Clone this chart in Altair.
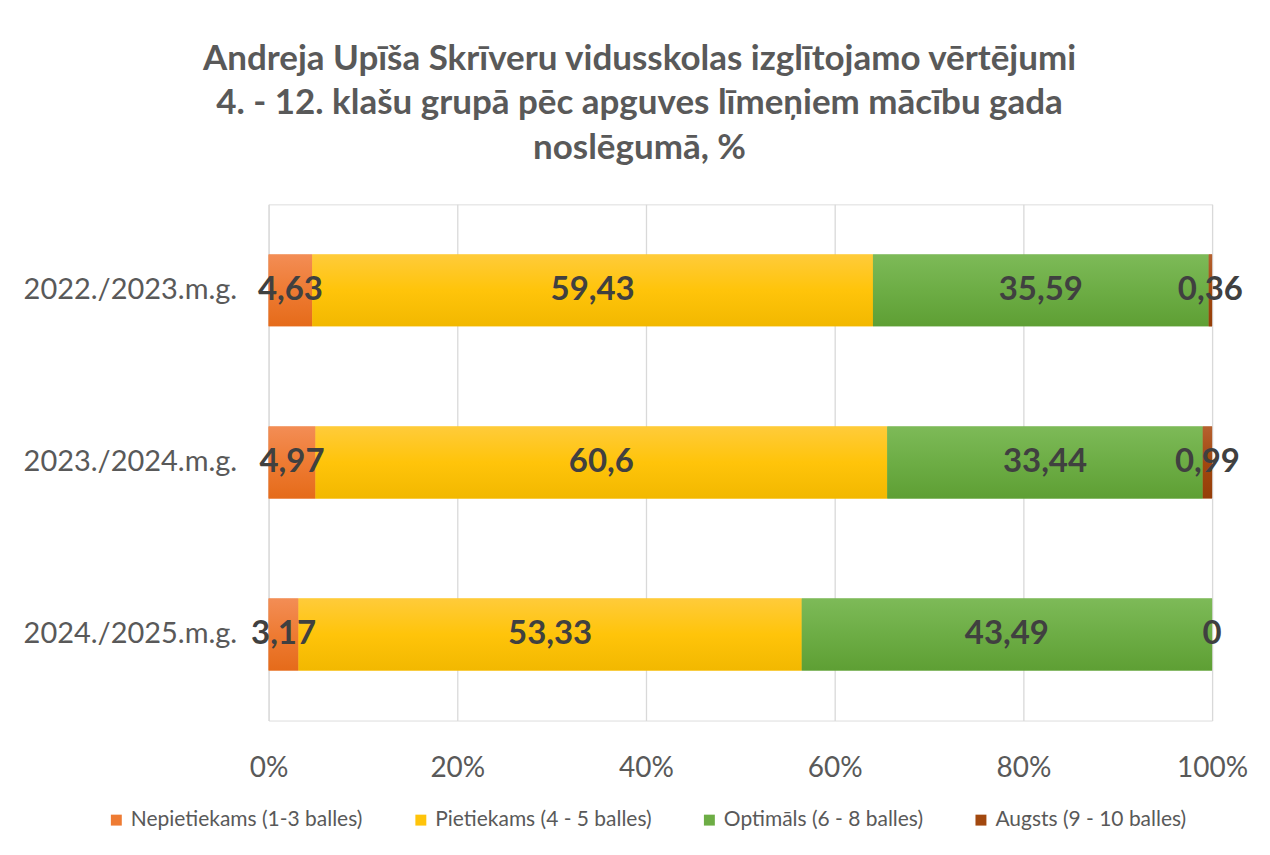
import altair as alt
import pandas as pd

years = ["2022./2023.m.g.", "2023./2024.m.g.", "2024./2025.m.g."]
series = ["Nepietiekams (1-3 balles)", "Pietiekams (4 - 5 balles)",
          "Optimāls (6 - 8 balles)", "Augsts (9 - 10 balles)"]
colors = ["#EE7B33", "#FFC40A", "#6DAD45", "#A2480F"]
grad_top = ["#F38D55", "#FFCB3A", "#7DBA58", "#B6612F"]
grad_bottom = ["#E56B1A", "#F2B800", "#5E9F34", "#953E08"]
nepietiekams = [4.63, 4.97, 3.17]
pietiekams = [59.43, 60.6, 53.33]
optimals = [35.59, 33.44, 43.49]
augsts = [0.36, 0.99, 0]
labels = ["4,63", "4,97", "3,17", "59,43", "60,6", "53,33",
          "35,59", "33,44", "43,49", "0,36", "0,99", "0"]

rows = []
vals = [nepietiekams, pietiekams, optimals, augsts]
k = 0
for si, s in enumerate(series):
    for yi, y in enumerate(years):
        rows.append({"year": y, "series": s, "idx": si, "value": vals[si][yi], "label": labels[k]})
        k += 1
df = pd.DataFrame(rows)

FONT = "Lato"
BAR = 72

base = alt.Chart(df)

bars = base.mark_bar(size=BAR).encode(
    y=alt.Y("year:N", sort=years, title=None,
            axis=alt.Axis(labelFontSize=29, labelColor="#595959", labelFont=FONT,
                          labelLimit=400,
                          ticks=False, domain=False, labelPadding=32, grid=False)),
    x=alt.X("value:Q", stack="normalize", title=None,
            scale=alt.Scale(domain=[0, 1], nice=False),
            axis=alt.Axis(format=".0%", values=[0, 0.2, 0.4, 0.6, 0.8, 1.0],
                          labelFontSize=28, labelColor="#595959", labelFont=FONT,
                          labelFlush=False,
                          ticks=False, domain=False, labelPadding=34,
                          gridColor="#D9D9D9", gridWidth=1.3)),
    color=alt.Color("series:N", sort=series,
                    scale=alt.Scale(domain=series, range=colors),
                    legend=alt.Legend(title=None, orient="none", direction="horizontal",
                                      legendX=-163, legendY=606,
                                      symbolType="square", symbolSize=120,
                                      symbolStrokeWidth=0,
                                      labelFontSize=21, labelColor="#595959",
                                      labelFont=FONT, columnPadding=47,
                                      labelLimit=400)),
    order=alt.Order("idx:Q"),
)

stacked = base.transform_stack(
    stack="value", groupby=["year"], as_=["v0", "v1"], offset="normalize",
    sort=[alt.SortField("idx", order="ascending")]
)

grad_layers = []
for si, s in enumerate(series):
    g = alt.LinearGradient(
        gradient="linear",
        stops=[alt.GradientStop(color=grad_top[si], offset=0),
               alt.GradientStop(color=colors[si], offset=0.5),
               alt.GradientStop(color=grad_bottom[si], offset=1)],
        x1=0, x2=0, y1=0, y2=1)
    grad_layers.append(
        stacked.transform_filter(alt.datum.series == s).mark_bar(size=BAR, color=g).encode(
            y=alt.Y("year:N", sort=years),
            x=alt.X("v0:Q"),
            x2="v1:Q",
        )
    )

text = stacked.transform_calculate(
    mid="(datum.v0 + datum.v1) / 2"
).mark_text(fontSize=33, fontWeight="bold", color="#404040", font=FONT).encode(
    y=alt.Y("year:N", sort=years),
    x=alt.X("mid:Q"),
    text="label:N",
)

chart = alt.layer(bars, *grad_layers, text).properties(
    width=945, height=517,
    autosize=alt.AutoSizeParams(type="none"),
    padding={"left": 261, "top": 196, "right": 50, "bottom": 126},
    title=alt.TitleParams(
        text=["Andreja Upīša Skrīveru vidusskolas izglītojamo vērtējumi",
              "4. - 12. klašu grupā pēc apguves līmeņiem mācību gada",
              "noslēgumā, %"],
        fontSize=35, font=FONT, fontWeight="bold", color="#595959",
        lineHeight=45, anchor="middle", dx=-101, offset=38),
).configure_view(stroke=None).configure(background="white")

chart.save("out.html", embed_options={"renderer": "svg", "actions": False})
